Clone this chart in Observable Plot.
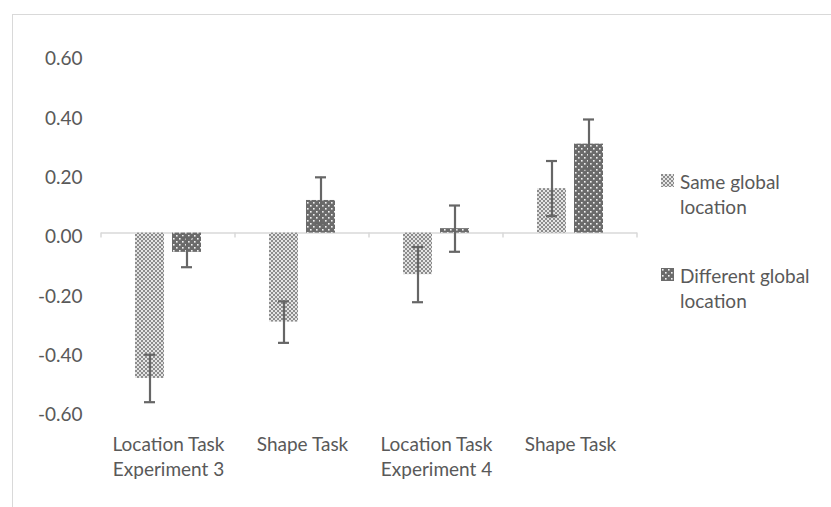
<!DOCTYPE html>
<html>
<head>
<meta charset="utf-8">
<script src="https://cdn.jsdelivr.net/npm/d3@7"></script>
<script src="https://cdn.jsdelivr.net/npm/@observablehq/plot@0.6"></script>
<style>
  html, body { margin: 0; padding: 0; background: #fff; }
  #wrap { position: relative; width: 831px; height: 507px; overflow: hidden; font-family: Lato, "Open Sans", sans-serif; color: #595959; }
  #frame { position: absolute; left: 12px; top: 14px; width: 900px; height: 600px; border-left: 1px solid #d9d9d9; border-top: 1px solid #d9d9d9; }
  #chart { position: absolute; left: 0; top: 0; }
  #legend { position: absolute; left: 661px; top: 170px; font-size: 19px; line-height: 24.5px; }
  .item { position: relative; padding-left: 19px; margin-bottom: 45px; }
  .item svg { position: absolute; left: 0; top: 4px; }
</style>
</head>
<body>
<div id="wrap">
  <div id="frame"></div>
  <div id="chart"></div>
  <div id="legend"></div>
</div>
<script>
// ---- data ----
const categoryKeys = ["loc3", "shape3", "loc4", "shape4"];
const categoryLabels = ["Location Task\nExperiment 3", "Shape Task", "Location Task\nExperiment 4", "Shape Task"];
const seriesNames = ["Same global location", "Different global location"];
const sameValues = [-0.49, -0.30, -0.14, 0.15];
const differentValues = [-0.065, 0.11, 0.015, 0.30];
const sameErrors = [0.08, 0.07, 0.093, 0.093];
const differentErrors = [0.05, 0.078, 0.078, 0.083];
const yTicks = [-0.6, -0.4, -0.2, 0, 0.2, 0.4, 0.6];

const rows = [];
categoryKeys.forEach((k, i) => {
  rows.push({cat: k, series: seriesNames[0], value: sameValues[i], err: sameErrors[i]});
  rows.push({cat: k, series: seriesNames[1], value: differentValues[i], err: differentErrors[i]});
});
const labelOf = k => categoryLabels[categoryKeys.indexOf(k)];
const patternOf = {[seriesNames[0]]: "url(#pSame)", [seriesNames[1]]: "url(#pDiff)"};

const chart = Plot.plot({
  width: 831,
  height: 507,
  marginLeft: 100,
  marginRight: 194,
  marginTop: 54.6,
  marginBottom: 96.4,
  style: {fontFamily: "Lato, 'Open Sans', sans-serif", fontSize: "19px", color: "#595959", background: "transparent", overflow: "visible"},
  fx: {domain: categoryKeys, padding: 0, label: null},
  x: {domain: seriesNames, paddingInner: 0.21, paddingOuter: 0.87, axis: null},
  y: {domain: [-0.6, 0.6], axis: null},
  marks: [
    Plot.axisY({ticks: yTicks, tickFormat: d => d.toFixed(2), tickSize: 0, tickPadding: 19, dy: 4, fill: "#595959", fontSize: 19, label: null}),
    Plot.axisFx({anchor: "bottom", tickSize: 0, tickPadding: 21.5, tickFormat: labelOf, lineHeight: 1.33, fill: "#595959", fontSize: 19, label: null}),
    Plot.ruleY([0], {stroke: "#d9d9d9", strokeWidth: 1.5}),
    Plot.barY(rows.filter(d => d.series === seriesNames[0]), {fx: "cat", x: "series", y: "value", fill: patternOf[seriesNames[0]]}),
    Plot.barY(rows.filter(d => d.series === seriesNames[1]), {fx: "cat", x: "series", y: "value", fill: patternOf[seriesNames[1]]}),
    Plot.ruleX(rows, {fx: "cat", x: "series", y1: d => d.value - d.err, y2: d => d.value + d.err, stroke: "#666666", strokeWidth: 2.2}),
    Plot.tickY(rows, {fx: "cat", x: "series", y: d => d.value - d.err, insetLeft: 9, insetRight: 9, stroke: "#666666", strokeWidth: 2.2}),
    Plot.tickY(rows, {fx: "cat", x: "series", y: d => d.value + d.err, insetLeft: 9, insetRight: 9, stroke: "#666666", strokeWidth: 2.2})
  ]
});

// pattern definitions
const svg = d3.select(chart);
const defs = svg.insert("defs", ":first-child");
const ps = defs.append("pattern").attr("id", "pSame").attr("patternUnits", "userSpaceOnUse").attr("width", 4).attr("height", 4);
ps.append("rect").attr("width", 4).attr("height", 4).attr("fill", "#e4e4e4");
ps.append("rect").attr("width", 2).attr("height", 2).attr("fill", "#8c8c8c");
ps.append("rect").attr("x", 2).attr("y", 2).attr("width", 2).attr("height", 2).attr("fill", "#8c8c8c");
const pd = defs.append("pattern").attr("id", "pDiff").attr("patternUnits", "userSpaceOnUse").attr("width", 6).attr("height", 6);
pd.append("rect").attr("width", 6).attr("height", 6).attr("fill", "#6b6b6b");
pd.append("rect").attr("x", 1).attr("y", 1).attr("width", 1.6).attr("height", 1.6).attr("fill", "#f2f2f2");
pd.append("rect").attr("x", 4).attr("y", 4).attr("width", 1.6).attr("height", 1.6).attr("fill", "#f2f2f2");

// category boundary ticks using the plot's own scales
const fx = chart.scale("fx");
const ys = chart.scale("y");
const y0 = ys.apply(0);
const bounds = categoryKeys.map(k => fx.apply(k));
bounds.push(fx.apply(categoryKeys[categoryKeys.length - 1]) + fx.bandwidth);
svg.append("g").selectAll("line").data(bounds).join("line")
  .attr("x1", d => d).attr("x2", d => d)
  .attr("y1", y0).attr("y2", y0 + 5)
  .attr("stroke", "#d9d9d9").attr("stroke-width", 1.5);

document.getElementById("chart").appendChild(chart);

// legend
const legend = d3.select("#legend");
const legendLines = [["Same global", "location"], ["Different global", "location"]];
seriesNames.forEach((s, i) => {
  const item = legend.append("div").attr("class", "item");
  const sw = item.append("svg").attr("width", 13).attr("height", 13);
  sw.append("rect").attr("width", 13).attr("height", 13).attr("fill", patternOf[s]);
  item.append("div").text(legendLines[i][0]);
  item.append("div").text(legendLines[i][1]);
});
</script>
</body>
</html>
